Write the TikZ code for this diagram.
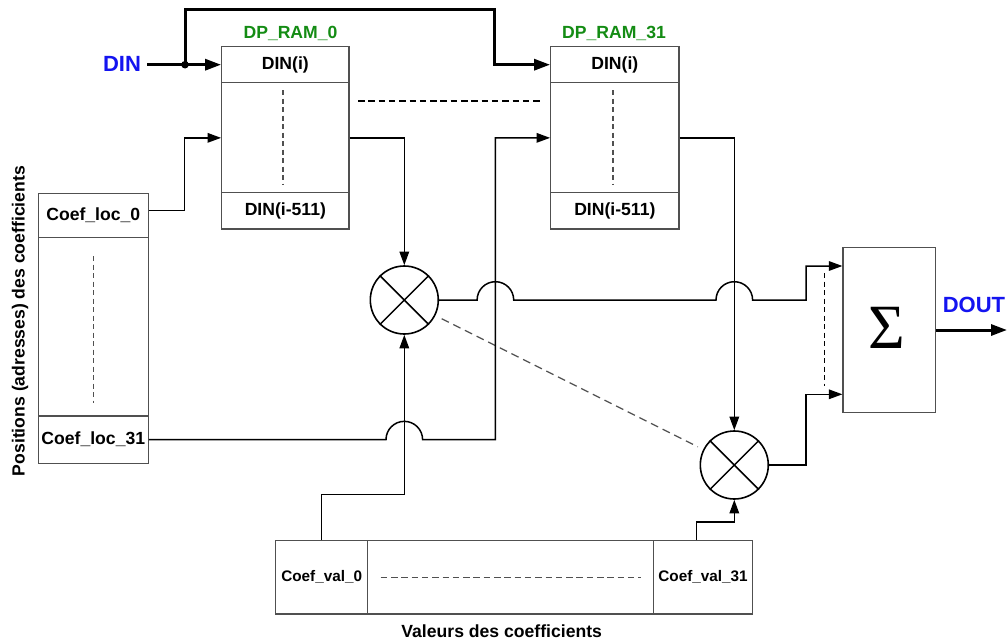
\documentclass[tikz,border=0pt]{standalone}
\usepackage{fontspec}
\setmainfont{Liberation Sans}
\newfontfamily\sigmafont{Liberation Serif}
\usetikzlibrary{arrows.meta,calc}
\definecolor{boxgray}{RGB}{80,80,80}
\definecolor{dpgreen}{RGB}{20,140,20}
\definecolor{dinblue}{RGB}{20,20,240}
\begin{document}
\begin{tikzpicture}[x=1pt,y=-1pt,
  conn/.style={line width=1.5pt, black},
  arr/.style={conn, -{Triangle[length=13.5pt,width=9.5pt]}},
  thickarr/.style={line width=3pt, black, -{Triangle[length=16pt,width=11pt]}},
  txt/.style={font=\bfseries\fontsize{17.6}{20}\selectfont},
  cell/.style={draw=boxgray, line width=1.2pt, rectangle, inner sep=0pt, txt},
  valtxt/.style={font=\bfseries\fontsize{15.3}{18}\selectfont},
  mult/.style={circle, draw, line width=1.6pt, minimum size=68pt, inner sep=0pt},
  greentxt/.style={txt, text=dpgreen, inner sep=0pt},
  bluetxt/.style={font=\bfseries\fontsize{22}{24}\selectfont, text=dinblue, inner sep=0pt},
  graydash/.style={draw=boxgray, line width=1.1pt, dash pattern=on 5pt off 3.5pt},
  blackdash/.style={line width=1.2pt, dash pattern=on 6.5pt off 3.8pt},
]
\useasboundingbox (0,0) rectangle (1008,642);

% DP_RAM_0
\node[cell, minimum width=127.3pt, minimum height=182.3pt] (ram0) at (285.35,137.85) {};
\node[cell, minimum width=127.3pt, minimum height=36pt, anchor=north] (ram0in) at (ram0.north) {DIN(i)};
\node[cell, minimum width=127.3pt, minimum height=36.3pt, anchor=south] (ram0out) at (ram0.south) {DIN(i-511)};
\node[greentxt] (lab0) at (290.5,33) {DP\_RAM\_0};
\draw[graydash] (283,90) -- (283,185);

% DP_RAM_31
\node[cell, minimum width=128.3pt, minimum height=182.3pt] (ram31) at (614.85,137.85) {};
\node[cell, minimum width=128.3pt, minimum height=36pt, anchor=north] (ram31in) at (ram31.north) {DIN(i)};
\node[cell, minimum width=128.3pt, minimum height=36.3pt, anchor=south] (ram31out) at (ram31.south) {DIN(i-511)};
\node[greentxt] (lab31) at (614,33) {DP\_RAM\_31};
\draw[graydash] (613,90) -- (613,185);

\draw[blackdash] (358,101) -- (541,101);

% Coef_loc
\node[cell, minimum width=110pt, minimum height=270pt] (loc) at (93.3,328.3) {};
\node[cell, minimum width=110pt, minimum height=44pt, anchor=north] (loc0) at (loc.north) {Coef\_loc\_0};
\node[cell, minimum width=110pt, minimum height=47.3pt, anchor=south] (loc31) at (loc.south) {Coef\_loc\_31};
\draw[graydash] (93.3,256) -- (93.3,402.7);
\node[txt, rotate=90, inner sep=0pt] (poslab) at (20,321) {Positions (adresses) des coefficients};

% Coef_val
\node[cell, minimum width=477pt, minimum height=73.3pt] (val) at (514.2,577.35) {};
\node[cell, valtxt, minimum width=92pt, minimum height=73.3pt, anchor=west] (val0) at (val.west) {Coef\_val\_0};
\node[cell, valtxt, minimum width=99.4pt, minimum height=73.3pt, anchor=east] (val31) at (val.east) {Coef\_val\_31};
\draw[blackdash, draw=boxgray] (380.7,577.3) -- (641,577.3);
\node[txt, inner sep=0pt] (vallab) at (501.7,631.5) {Valeurs des coefficients};

% Sum
\node[cell, minimum width=92.7pt, minimum height=165.4pt] (sum) at (889.35,330) {};
\node[inner sep=0pt] (sigma) at (887,328) {\sigmafont\fontsize{63}{63}\selectfont Σ};
\coordinate (sumin1) at ($(sum.west)+(0,-64)$);
\coordinate (sumin2) at ($(sum.west)+(0,64.3)$);
\coordinate (sumbus) at ($(sum.west)+(-36.3,0)$);
\draw[graydash, draw=black] ($(sumin1)+(-18,7)$) -- ($(sumin2)+(-18,-8)$);

% Multipliers
\node[mult] (m1) at (404.3,300) {};
\node[mult] (m2) at (734.3,465) {};
\draw[line width=1.5pt] (m1.north east) -- (m1.south west) (m1.north west) -- (m1.south east);
\draw[line width=1.5pt] (m2.north east) -- (m2.south west) (m2.north west) -- (m2.south east);
\draw[line width=1.2pt, draw=boxgray, dash pattern=on 8pt off 5pt, shorten <=7pt, shorten >=6pt] (m1) -- (m2);

% DIN input
\node[bluetxt] (din) at (122,64) {DIN};
\coordinate (split) at (185,64.7);
\draw[thickarr, shorten <=6pt] (din.east |- ram0in.west) -- (ram0in.west);
\draw[thickarr] (split) -- ++(0,-54.7) -| ($(ram31in.west)+(-55.7,0)$) -- (ram31in.west);
\fill (split) circle (3.8pt);

% Coef_loc connections
\draw[arr] ([yshift=4.6pt]loc0.east) -| ($(ram0.west)+(-36.7,0)$) -- (ram0.west);
\coordinate (bus31) at ($(ram31.west)+(-54.7,0)$);
\draw[arr] (loc31.east) -- ($(m1.center |- loc31.east)+(-18.3,0)$)
  arc[start angle=180, end angle=0, radius=18.3pt]
  -- (bus31 |- loc31.east) |- (ram31.west);

% RAM outputs to multipliers
\draw[arr] (ram0.east) -| (m1.north);
\draw[arr] (ram31.east) -| (m2.north);

% Multipliers to sum
\draw[arr] (m1.east) -- ($(bus31 |- m1.east)+(-18.3,0)$)
  arc[start angle=180, end angle=0, radius=18.3pt]
  -- ($(m2.north |- m1.east)+(-18.3,0)$)
  arc[start angle=180, end angle=0, radius=18.3pt]
  -- (sumbus |- m1.east) |- (sumin1);
\draw[arr] (m2.east) -- (sumbus |- m2.east) |- (sumin2);

% Coef_val to multipliers
\draw[arr] (val0.north) -- ++(0,-45.7) -| (m1.south);
\draw[arr] ([xshift=-6.3pt]val31.north) -- ++(0,-18) -| (m2.south);

% Output
\coordinate (outend) at (1007,330);
\draw[thickarr] (sum.east) -- (outend);
\node[bluetxt] (dout) at (974,305) {DOUT};
\end{tikzpicture}
\end{document}
